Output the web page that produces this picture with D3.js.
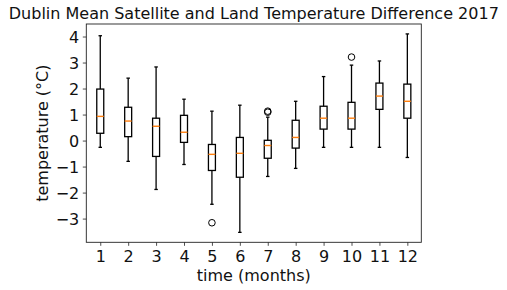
<!DOCTYPE html>
<html>
<head>
<meta charset="utf-8">
<script src="https://cdn.jsdelivr.net/npm/d3@7"></script>
<style>
  body { margin: 0; background: #fff; }
  svg { display: block; font-family: "DejaVu Sans", sans-serif; }
</style>
</head>
<body>
<div id="main"></div>
<script>
// box statistics per month
const months = [1, 2, 3, 4, 5, 6, 7, 8, 9, 10, 11, 12];
const whiskerLow = [-0.26, -0.80, -1.88, -0.92, -2.45, -3.53, -1.38, -1.07, -0.26, -0.26, -0.26, -0.65];
const q1 = [0.28, 0.15, -0.61, -0.07, -1.15, -1.41, -0.68, -0.29, 0.44, 0.44, 1.20, 0.86];
const medians = [0.93, 0.75, 0.55, 0.32, -0.53, -0.49, -0.19, 0.12, 0.86, 0.86, 1.71, 1.51];
const q3 = [1.98, 1.28, 0.86, 0.97, -0.15, 0.12, 0.01, 0.78, 1.32, 1.47, 2.21, 2.17];
const whiskerHigh = [4.03, 2.40, 2.83, 1.59, 1.13, 1.36, 0.90, 1.51, 2.46, 2.90, 3.06, 4.10];
// outliers as [month, value]
const outliers = [[5, -3.16], [7, 1.09], [7, 1.13], [10, 3.21]];
const yTicks = [-3, -2, -1, 0, 1, 2, 3, 4];

function main() {
  const width = 507;
  const height = 290;
  const left = 86.3;
  const right = 421.3;
  const top = 24;
  const bottom = 242.3;

  const svg = d3.select('#main')
    .append('svg')
    .attr('width', width)
    .attr('height', height);

  // x scale: boxes at 1..12 with half a unit either side
  const xScale = d3.scaleLinear()
    .domain([0.5, 12.5])
    .range([left, right]);

  // y scale with 5% margin, like matplotlib autoscale
  const lo = d3.min(whiskerLow.concat(outliers.map(d => d[1])));
  const hi = d3.max(whiskerHigh.concat(outliers.map(d => d[1])));
  const pad = (hi - lo) * 0.05;
  const yScale = d3.scaleLinear()
    .domain([lo - pad, hi + pad])
    .range([bottom, top]);

  const xAxis = d3.axisBottom(xScale)
    .tickValues(months)
    .tickFormat(d3.format('d'))
    .tickSizeOuter(0)
    .tickSizeInner(3.5)
    .tickPadding(4.5);

  const yAxis = d3.axisLeft(yScale)
    .tickValues(yTicks)
    .tickFormat(d => (d < 0 ? '\u2212' + Math.abs(d) : d))
    .tickSizeOuter(0)
    .tickSizeInner(3.5)
    .tickPadding(3.5);

  const gx = svg.append('g')
    .attr('transform', `translate(0, ${bottom})`)
    .call(xAxis);
  const gy = svg.append('g')
    .attr('transform', `translate(${left}, 0)`)
    .call(yAxis);

  [gx, gy].forEach(g => {
    g.select('.domain').remove();
    g.selectAll('line').attr('stroke', '#222').attr('stroke-width', 0.8);
    g.selectAll('text')
      .attr('fill', '#111')
      .style('font-family', '"DejaVu Sans", sans-serif')
      .style('font-size', '16px');
  });
  gy.selectAll('text').attr('dy', '0.36em');

  // frame
  svg.append('rect')
    .attr('x', left)
    .attr('y', top)
    .attr('width', right - left)
    .attr('height', bottom - top)
    .attr('fill', 'none')
    .attr('stroke', '#222')
    .attr('stroke-width', 0.9);

  const boxW = xScale(1.25) - xScale(1);
  const capW = boxW / 2;
  const stats = months.map((m, i) => ({
    m, lo: whiskerLow[i], q1: q1[i], med: medians[i], q3: q3[i], hi: whiskerHigh[i],
  }));

  const boxes = svg.selectAll('g.box')
    .data(stats)
    .enter()
    .append('g')
    .attr('class', 'box');

  // whiskers
  boxes.append('line')
    .attr('x1', d => xScale(d.m)).attr('x2', d => xScale(d.m))
    .attr('y1', d => yScale(d.q3)).attr('y2', d => yScale(d.hi));
  boxes.append('line')
    .attr('x1', d => xScale(d.m)).attr('x2', d => xScale(d.m))
    .attr('y1', d => yScale(d.q1)).attr('y2', d => yScale(d.lo));
  // caps
  boxes.append('line')
    .attr('x1', d => xScale(d.m) - capW / 2).attr('x2', d => xScale(d.m) + capW / 2)
    .attr('y1', d => yScale(d.hi)).attr('y2', d => yScale(d.hi));
  boxes.append('line')
    .attr('x1', d => xScale(d.m) - capW / 2).attr('x2', d => xScale(d.m) + capW / 2)
    .attr('y1', d => yScale(d.lo)).attr('y2', d => yScale(d.lo));
  // box
  boxes.append('rect')
    .attr('x', d => xScale(d.m) - boxW / 2)
    .attr('y', d => yScale(d.q3))
    .attr('width', boxW)
    .attr('height', d => yScale(d.q1) - yScale(d.q3))
    .attr('fill', 'none');
  boxes.selectAll('line, rect')
    .attr('stroke', '#000')
    .attr('stroke-width', 1.3);
  // median
  boxes.append('line')
    .attr('x1', d => xScale(d.m) - boxW / 2).attr('x2', d => xScale(d.m) + boxW / 2)
    .attr('y1', d => yScale(d.med)).attr('y2', d => yScale(d.med))
    .attr('stroke', '#ff7f0e')
    .attr('stroke-width', 1.4);

  // outliers
  svg.selectAll('circle.flier')
    .data(outliers)
    .enter()
    .append('circle')
    .attr('class', 'flier')
    .attr('cx', d => xScale(d[0]))
    .attr('cy', d => yScale(d[1]))
    .attr('r', 3.3)
    .attr('fill', 'none')
    .attr('stroke', '#000')
    .attr('stroke-width', 1);

  // title
  svg.append('text')
    .attr('x', (left + right) / 2)
    .attr('y', 18.5)
    .style('font-size', '16px')
    .style('text-anchor', 'middle')
    .attr('fill', '#111')
    .text('Dublin Mean Satellite and Land Temperature Difference 2017');

  // x axis label
  svg.append('text')
    .attr('x', (left + right) / 2)
    .attr('y', 280.5)
    .style('font-size', '16px')
    .style('text-anchor', 'middle')
    .attr('fill', '#111')
    .text('time (months)');

  // y axis label
  svg.append('text')
    .attr('transform', `translate(48, ${(top + bottom) / 2}) rotate(-90)`)
    .style('font-size', '16px')
    .style('text-anchor', 'middle')
    .attr('fill', '#111')
    .text('temperature (°C)');
}

document.addEventListener('DOMContentLoaded', main);
</script>
</body>
</html>
